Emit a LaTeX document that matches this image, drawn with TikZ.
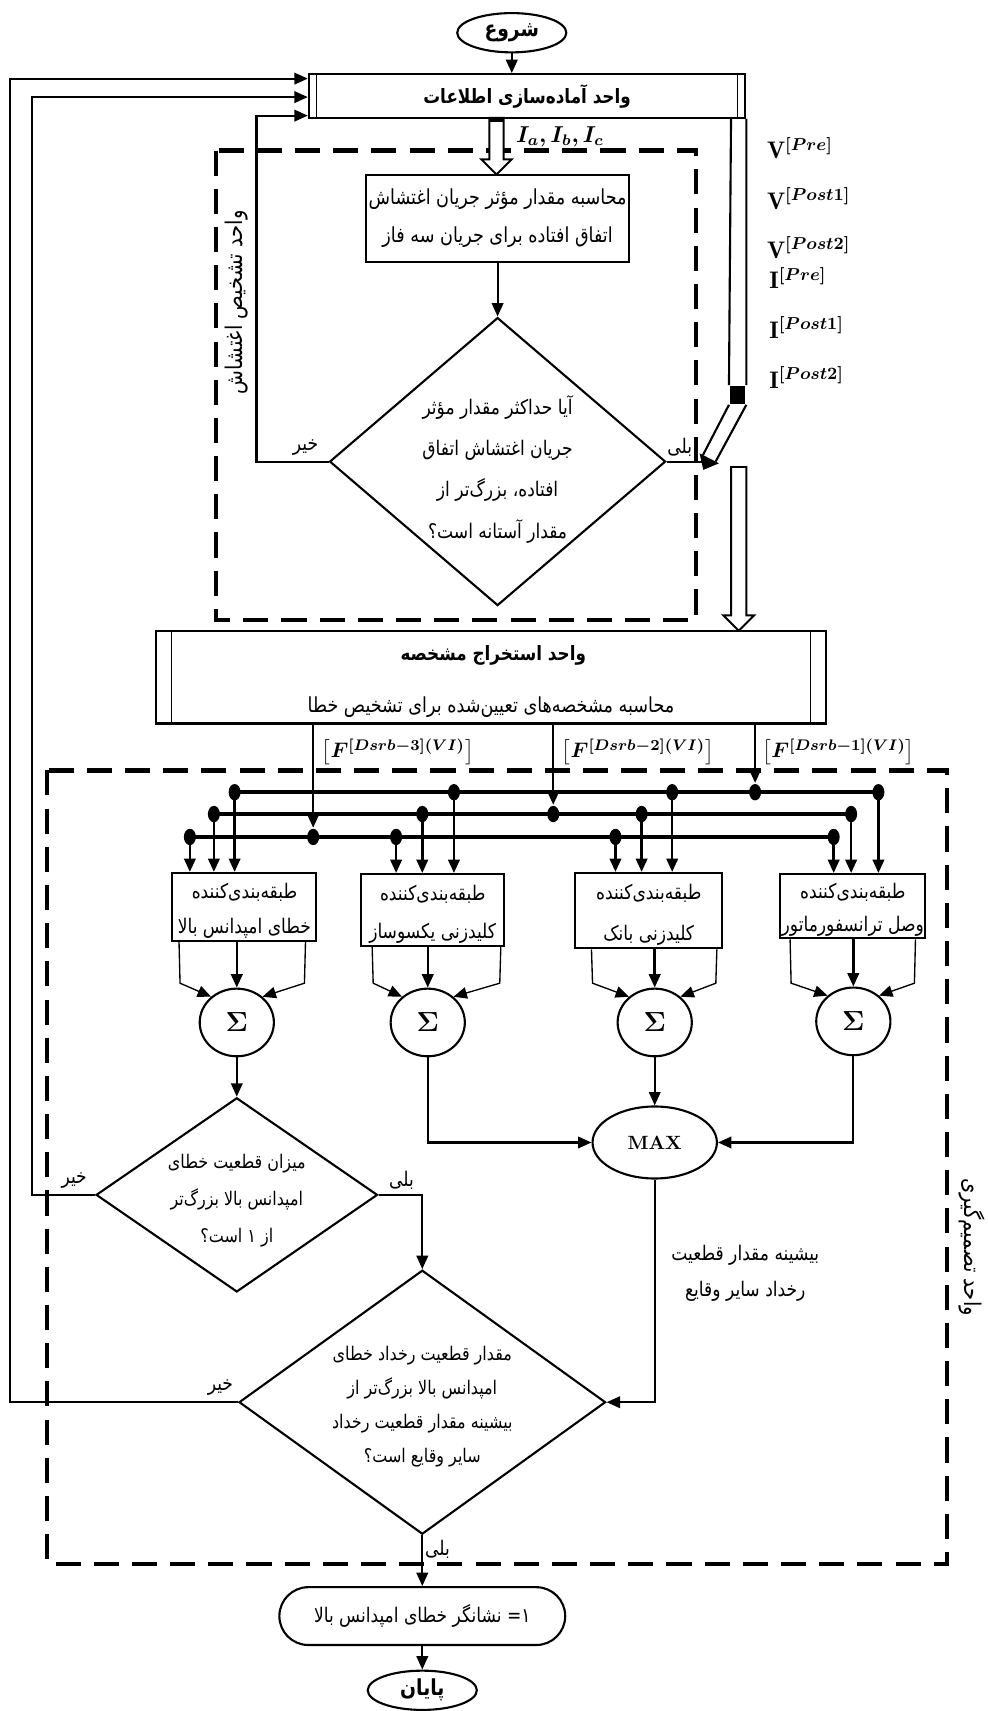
\documentclass[tikz,border=0pt]{standalone}
\usepackage{fontspec}
\usepackage{amsmath}
\usepackage{bm}
\usetikzlibrary{shapes.geometric,shapes.misc,arrows.meta,calc}
\newfontfamily\farsi[Script=Arabic,FakeStretch=0.85]{DejaVu Sans}
\TeXXeTstate=1
\newcommand\fa[1]{{\farsi\beginR #1\endR}}
\begin{document}
\begin{tikzpicture}[x=0.02cm,y=-0.02cm,line width=1.1pt,
  arr/.style={-{Triangle[length=7pt,width=6pt]}},
  boxx/.style={draw,rectangle,inner sep=0pt},
  dbox/.style={draw,dash pattern=on 0.46cm off 0.24cm,line width=2.2pt},
  dot/.style={ellipse,fill,inner sep=0pt,minimum width=0.22cm,minimum height=0.3cm},
  sig/.style={draw,ellipse,inner sep=0pt,minimum width=1.36cm,minimum height=1.24cm,font=\fontsize{14}{15}\selectfont},
  dia/.style={draw,diamond,inner sep=0pt},
  txt/.style={inner sep=0pt,font=\farsi\fontsize{10.8}{13}\selectfont},
  stxt/.style={inner sep=0pt,font=\farsi\fontsize{10.5}{12}\selectfont},
  ctxt/.style={inner sep=0pt,font=\farsi\fontsize{10.5}{12}\selectfont},
  btxt/.style={inner sep=0pt,font=\farsi\bfseries\fontsize{10.3}{12}\selectfont},
  rtxt/.style={inner sep=0pt,font=\farsi\fontsize{12}{14}\selectfont},
  mtxt/.style={inner sep=0pt,font=\fontsize{12.5}{14}\selectfont},
  thinl/.style={line width=0.7pt},
  bus/.style={line width=1.8pt},
  drop/.style={line width=1.3pt,-{Triangle[length=7pt,width=6pt]}},
  hollow/.style={line width=1pt,fill=white},
  ]
\fill[white] (0,0) rectangle (905,1568);
\useasboundingbox (0,0) rectangle (905,1568);

% ---------- top ----------
\node[draw,ellipse,minimum width=2cm,minimum height=0.72cm,inner sep=0pt,font=\farsi\bfseries\fontsize{11.5}{13}\selectfont] (start) at (469,30) {\fa{شروع}};
\node[boxx,minimum width=8cm,minimum height=0.8cm,btxt] (box1) at (483,88) {\fa{واحد آماده‌سازی اطلاعات}};
\draw[thinl] ($(box1.north west)+(8,0)$) -- ($(box1.south west)+(8,0)$);
\draw[thinl] ($(box1.north east)+(-8,0)$) -- ($(box1.south east)+(-8,0)$);
\draw[arr] (start.south) -- (start.south |- box1.north);
\coordinate (in1) at ($(box1.south west)+(0,-3)$);
\coordinate (in2) at ($(box1.west)+(0,1)$);
\coordinate (in3) at ($(box1.north west)+(0,5)$);

% right pipe
\node[fill,inner sep=0pt,minimum width=0.28cm,minimum height=0.32cm] (sq) at (676,362) {};
\draw (box1.south east) -- (sq.north east);
\draw ($(box1.south east)+(-14,0)$) -- (sq.north west);
\draw (sq.south west) -- (644.2,417);
\draw (sq.south east) -- (655.8,423);
\fill (641.1,415.4) -- (658.9,424.6) -- (644.5,430.6) -- cycle;

% V / I labels
\node[mtxt,anchor=west] (v1) at (702,136) {$\mathbf{V}^{\bm{[Pre]}}$};
\node[mtxt,anchor=west] (v2) at (702,182) {$\mathbf{V}^{\bm{[Post1]}}$};
\node[mtxt,anchor=west] (v3) at (702,227) {$\mathbf{V}^{\bm{[Post2]}}$};
\node[mtxt,anchor=west] (i1) at (704,255) {$\mathbf{I}^{\bm{[Pre]}}$};
\node[mtxt,anchor=west] (i2) at (704,300) {$\mathbf{I}^{\bm{[Post1]}}$};
\node[mtxt,anchor=west] (i3) at (704,346) {$\mathbf{I}^{\bm{[Post2]}}$};

% ---------- disturbance detection unit ----------
\draw[dbox] (198,138) rectangle (638,568);
\node[rotate=90,rtxt] (lbl1) at (217,277) {\fa{واحد تشخیص اغتشاش}};

\node[boxx,minimum width=4.82cm,minimum height=1.6cm,txt,align=center] (box2) at (456,200)
  {\fa{محاسبه مقدار مؤثر جریان اغتشاش}\\[7pt]\fa{اتفاق افتاده برای جریان سه فاز}};
% hollow arrow box1 -> box2
\draw[hollow] (448.5,108) -- (448.5,146) -- (441,146) -- (455,160) -- (469,146) -- (461.5,146) -- (461.5,108) -- cycle;
\fill (448.5,108) rectangle (461.5,112);
\node[anchor=west,font=\fontsize{12}{13}\selectfont,inner sep=0pt] (ilab) at (472,125) {$\bm{I_a ,I_b ,I_c}$};

\node[dia,minimum width=6.16cm,minimum height=5.28cm] (d1) at (456,423) {};
\draw[arr] (box2.south) -- (d1.north);
\node[align=center,inner sep=0pt,font=\farsi\fontsize{10.5}{21.6}\selectfont] (d1t) at (456,430)
  {\fa{آیا حداکثر مقدار مؤثر}\\\fa{جریان اغتشاش اتفاق}\\\fa{افتاده، بزرگ‌تر از}\\\fa{مقدار آستانه است؟}};
\node[stxt] (d1no) at (280,410) {\fa{خیر}};
\node[stxt] (d1yes) at (623,410) {\fa{بلی}};
\draw[arr] (d1.west) -- ++(-66,0) |- (in1);
\draw (d1.east) -- (648,423);

% ---------- feature extraction ----------
\draw[hollow] (670,428) -- (670,564) -- (663,564) -- (677,578) -- (691,564) -- (684,564) -- (684,428) -- cycle;
\node[boxx,minimum width=12.28cm,minimum height=1.7cm] (feat) at (450,620.5) {};
\draw[thinl] ($(feat.north west)+(15,0)$) -- ($(feat.south west)+(15,0)$);
\draw[thinl] ($(feat.north east)+(-15,0)$) -- ($(feat.south east)+(-15,0)$);
\node[btxt] (ft) at (452,601) {\fa{واحد استخراج مشخصه}};
\node[txt] (fs) at (450,648) {\fa{محاسبه مشخصه‌های تعیین‌شده برای تشخیص خطا}};

% ---------- decision unit ----------
\draw[dbox] (43,706) rectangle (868,1433);
\node[rotate=-90,rtxt] (lbl2) at (891,1143) {\fa{واحد تصمیم‌گیری}};

% bus dots
\node[dot] (p11) at (215,726) {};
\node[dot] (p12) at (416,726) {};
\node[dot] (p13) at (616,726) {};
\node[dot] (q1) at (692,726) {};
\node[dot] (p14) at (805,726) {};
\node[dot] (p21) at (196,746) {};
\node[dot] (p22) at (387,746) {};
\node[dot] (q2) at (507,746) {};
\node[dot] (p23) at (588,746) {};
\node[dot] (p24) at (780,746) {};
\node[dot] (p31) at (174,767) {};
\node[dot] (q3) at (287,767) {};
\node[dot] (p32) at (363,767) {};
\node[dot] (p33) at (564,767) {};
\node[dot] (p34) at (764,767) {};
\draw[bus] (p11.center) -- (p14.center);
\draw[bus] (p21.center) -- (p24.center);
\draw[bus] (p31.center) -- (p34.center);

% feature outputs
\draw[drop] (q3 |- feat.south) -- (q3.north);
\draw[drop] (q2 |- feat.south) -- (q2.north);
\draw[drop] (q1 |- feat.south) -- (q1.north);
\node[anchor=west,inner sep=0pt,font=\fontsize{11}{12}\selectfont] (fl3) at (294,689) {$\left[\bm{F^{[Dsrb-3](VI)}}\right]$};
\node[anchor=west,inner sep=0pt,font=\fontsize{11}{12}\selectfont] (fl2) at (514,689) {$\left[\bm{F^{[Dsrb-2](VI)}}\right]$};
\node[anchor=west,inner sep=0pt,font=\fontsize{11}{12}\selectfont] (fl1) at (698,689) {$\left[\bm{F^{[Dsrb-1](VI)}}\right]$};

% classifiers
\node[boxx,minimum width=2.64cm,minimum height=1.24cm] (c1) at (224,831) {};
\node[boxx,minimum width=2.62cm,minimum height=1.32cm] (c2) at (396.5,834) {};
\node[boxx,minimum width=2.7cm,minimum height=1.38cm] (c3) at (594.5,834.5) {};
\node[boxx,minimum width=2.66cm,minimum height=1.18cm] (c4) at (781.5,830.5) {};
\node[ctxt] (c1a) at (224,818) {\fa{طبقه‌بندی‌کننده}};
\node[ctxt] (c1b) at (224,851) {\fa{خطای امپدانس بالا}};
\node[ctxt] (c2a) at (396.5,820) {\fa{طبقه‌بندی‌کننده}};
\node[ctxt] (c2b) at (396.5,855) {\fa{کلیدزنی یکسوساز}};
\node[ctxt] (c3a) at (594.5,819) {\fa{طبقه‌بندی‌کننده}};
\node[ctxt] (c3b) at (594.5,857) {\fa{کلیدزنی بانک}};
\node[ctxt] (c4a) at (781.5,818) {\fa{طبقه‌بندی‌کننده}};
\node[ctxt] (c4b) at (781.5,849) {\fa{وصل ترانسفورماتور}};

\foreach \p/\c in {p11/c1,p21/c1,p31/c1,p12/c2,p22/c2,p32/c2,p13/c3,p23/c3,p33/c3,p14/c4,p24/c4,p34/c4}
  \draw[drop] (\p.center) -- (\p |- \c.north);

% sums
\node[sig] (s1) at (217,937) {$\bm{\Sigma}$};
\node[sig] (s2) at (392,937) {$\bm{\Sigma}$};
\node[sig] (s3) at (600,937) {$\bm{\Sigma}$};
\node[sig] (s4) at (782,936) {$\bm{\Sigma}$};
\draw[drop] (s1 |- c1.south) -- (s1.north);
\draw[drop] (s2 |- c2.south) -- (s2.north);
\draw[drop] (s3 |- c3.south) -- (s3.north);
\draw[drop] (s4 |- c4.south) -- (s4.north);
\draw[thinl,arr] ($(c1.south west)+(7,0)$) -- (165,901) -- (s1.135);
\draw[thinl,arr] ($(c1.south east)+(-11,0)$) -- (279,901) -- (s1.45);
\draw[thinl,arr] ($(c2.south west)+(11,0)$) -- (342,901) -- (s2.135);
\draw[thinl,arr] ($(c2.south east)+(-4,0)$) -- (458,901) -- (s2.45);
\draw[thinl,arr] ($(c3.south west)+(16,0)$) -- (543,901) -- (s3.135);
\draw[thinl,arr] ($(c3.south east)+(-6,0)$) -- (656,901) -- (s3.45);
\draw[thinl,arr] ($(c4.south west)+(10,0)$) -- (725,901) -- (s4.135);
\draw[thinl,arr] ($(c4.south east)+(-10,0)$) -- (838,901) -- (s4.45);

% MAX
\node[draw,ellipse,inner sep=0pt,minimum width=2.28cm,minimum height=1.32cm,font=\bfseries\fontsize{10}{11}\selectfont] (mx) at (600,1047) {MAX};
\draw[arr] (s2.south) |- (mx.west);
\draw[arr] (s3.south) -- (mx.north);
\draw[arr] (s4.south) |- (mx.east);

% left diamond
\node[dia,minimum width=5.16cm,minimum height=3.56cm] (d2) at (217,1095) {};
\draw[arr] (s1.south) -- (d2.north);
\node[align=center,inner sep=0pt,font=\farsi\fontsize{9.8}{19.3}\selectfont] (d2t) at (217,1100)
  {\fa{میزان قطعیت خطای}\\\fa{امپدانس بالا بزرگ‌تر}\\\fa{از ۱ است؟}};
\node[stxt] (d2no) at (68,1082) {\fa{خیر}};
\node[stxt] (d2yes) at (368,1082) {\fa{بلی}};
\draw[arr] (d2.west) -- ++(-58,0) |- (in2);

% bottom diamond
\node[dia,minimum width=6.72cm,minimum height=4.84cm] (d3) at (387,1285) {};
\draw[arr] (d2.east) -| (d3.north);
\draw[arr] (mx.south) |- (d3.east);
\node[align=center,inner sep=0pt,font=\farsi\fontsize{9.8}{17.6}\selectfont] (d3t) at (387,1289)
  {\fa{مقدار قطعیت رخداد خطای}\\\fa{امپدانس بالا بزرگ‌تر از}\\\fa{بیشینه مقدار قطعیت رخداد}\\\fa{سایر وقایع است؟}};
\node[align=center,inner sep=0pt,font=\farsi\fontsize{10.5}{18.8}\selectfont] (mxl) at (683,1167)
  {\fa{بیشینه مقدار قطعیت}\\\fa{رخداد سایر وقایع}};
\node[stxt] (d3no) at (202,1272) {\fa{خیر}};
\node[stxt] (d3yes) at (401,1420) {\fa{بلی}};
\draw[arr] (d3.west) -- ++(-209,0) |- (in3);

% end
\node[draw,rounded rectangle,inner sep=0pt,minimum width=5.24cm,minimum height=1.06cm,font=\farsi\fontsize{10.5}{12}\selectfont] (ov) at (387,1481)
  {\fa{۱\kern0pt=\ نشانگر خطای امپدانس بالا}};
\draw[arr] (d3.south) -- (ov.north);
\node[draw,ellipse,minimum width=2cm,minimum height=0.72cm,inner sep=0pt,font=\farsi\bfseries\fontsize{11.5}{13}\selectfont] (stop) at (387,1549) {\fa{پایان}};
\draw[arr] (ov.south) -- (stop.north);
\end{tikzpicture}
\end{document}
